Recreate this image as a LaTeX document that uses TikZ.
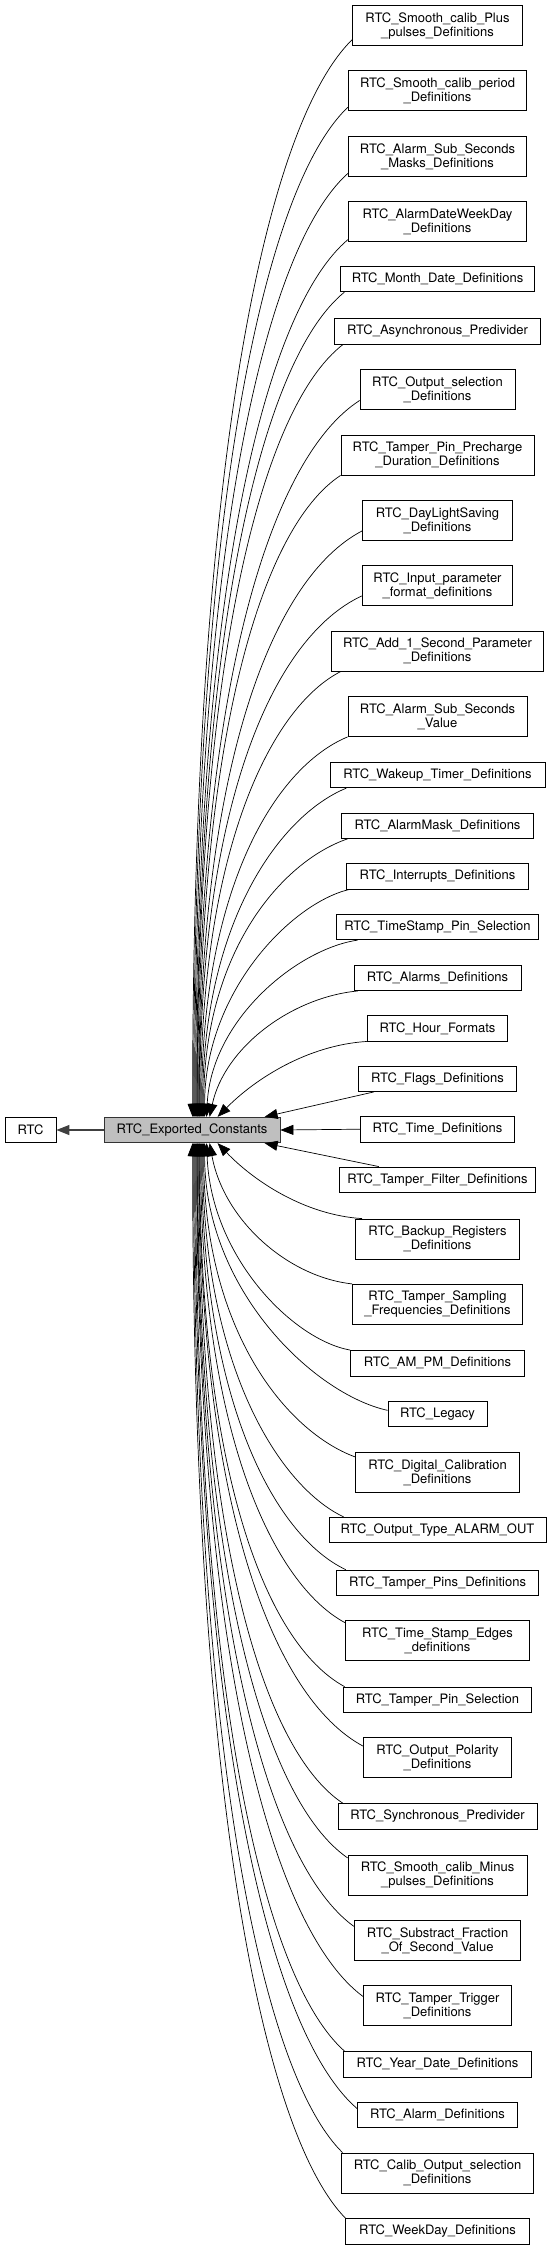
\documentclass[tikz,border=0pt]{standalone}
\usepackage{fontspec}
\setmainfont{TeX Gyre Heros}
\usetikzlibrary{arrows.meta,calc}
\tikzset{
  box/.style={draw=black, fill=white, line width=0.8pt, inner sep=0pt, align=center,
    font=\fontsize{13}{14}\selectfont},
  edge/.style={draw=black, line width=0.7pt, -{Triangle[length=13pt,width=10pt]}},
  pedge/.style={draw=black!75, line width=1.2pt, -{Triangle[length=13pt,width=10pt]}}
}
\newcommand\bx[5]{\node[box, minimum width=#3pt, minimum height=#4pt] (#1) at (437.5,#2) {#5};}
% upper edge: name, dx, dy(up), end x, a, b, c, k
\newcommand\uedge[8]{%
  \draw[edge] let \p1=($(#1.south west)+(#2,-#3)$), \p2=($(c.north west)+(#4-104,0)$) in
   (\p1) .. controls ({\x1+#5*(\x2-\x1)},{\y1+#6*(\y2-\y1)}) and ({\x2+#8*(\x1-\x2)},{\y1+#7*(\y2-\y1)}) .. (\p2);}
% lower edge: name, dx, dy(down), end x, a, b, c, k
\newcommand\ledge[8]{%
  \draw[edge] let \p1=($(#1.north west)+(#2,#3)$), \p2=($(c.south west)+(#4-104,0)$) in
   (\p1) .. controls ({\x1+#5*(\x2-\x1)},{\y1+#6*(\y2-\y1)}) and ({\x2+#8*(\x1-\x2)},{\y1+#7*(\y2-\y1)}) .. (\p2);}
\begin{document}
\begin{tikzpicture}[x=1pt,y=-1pt]
\useasboundingbox (0,0) rectangle (553,2251);
\node[box, minimum width=51pt, minimum height=25.5pt] (rtc) at (30.5,1130) {RTC};
\node[box, draw=black!80, fill=black!25, minimum width=176pt, minimum height=25.5pt] (c) at (192,1130) {RTC\_Exported\_Constants};
\bx{n1}{25.7}{170}{40}{RTC\_Smooth\_calib\_Plus\\\_pulses\_Definitions}
\bx{n2}{90.8}{178.4}{40}{RTC\_Smooth\_calib\_period\\\_Definitions}
\bx{n3}{156.3}{178.4}{40}{RTC\_Alarm\_Sub\_Seconds\\\_Masks\_Definitions}
\bx{n4}{221.8}{177.4}{40}{RTC\_AlarmDateWeekDay\\\_Definitions}
\bx{n5}{279}{194}{25.5}{RTC\_Month\_Date\_Definitions}
\bx{n6}{331.3}{206.7}{25.5}{RTC\_Asynchronous\_Predivider}
\bx{n7}{389.8}{155}{40}{RTC\_Output\_selection\\\_Definitions}
\bx{n8}{455}{193}{40}{RTC\_Tamper\_Pin\_Precharge\\\_Duration\_Definitions}
\bx{n9}{520.5}{150}{40}{RTC\_DayLightSaving\\\_Definitions}
\bx{n10}{585.5}{150.6}{40}{RTC\_Input\_parameter\\\_format\_definitions}
\bx{n11}{651}{212.3}{40}{RTC\_Add\_1\_Second\_Parameter\\\_Definitions}
\bx{n12}{716.5}{179}{40}{RTC\_Alarm\_Sub\_Seconds\\\_Value}
\bx{n13}{775}{215}{25.5}{RTC\_Wakeup\_Timer\_Definitions}
\bx{n14}{825.7}{192.3}{25.5}{RTC\_AlarmMask\_Definitions}
\bx{n15}{876.3}{182.3}{25.5}{RTC\_Interrupts\_Definitions}
\bx{n16}{927}{201.3}{25.5}{RTC\_TimeStamp\_Pin\_Selection}
\bx{n17}{977.8}{167}{25.5}{RTC\_Alarms\_Definitions}
\bx{n18}{1028.3}{140.7}{25.5}{RTC\_Hour\_Formats}
\bx{n19}{1078.7}{158}{25.5}{RTC\_Flags\_Definitions}
\bx{n20}{1129.2}{154.7}{25.5}{RTC\_Time\_Definitions}
\bx{n21}{1179.7}{196.7}{25.5}{RTC\_Tamper\_Filter\_Definitions}
\bx{n22}{1239}{164.7}{40}{RTC\_Backup\_Registers\\\_Definitions}
\bx{n23}{1304.3}{170}{40}{RTC\_Tamper\_Sampling\\\_Frequencies\_Definitions}
\bx{n24}{1363.2}{174}{25.5}{RTC\_AM\_PM\_Definitions}
\bx{n25}{1413.8}{99}{25.5}{RTC\_Legacy}
\bx{n26}{1472.3}{164}{40}{RTC\_Digital\_Calibration\\\_Definitions}
\bx{n27}{1530}{217}{25.5}{RTC\_Output\_Type\_ALARM\_OUT}
\bx{n28}{1582.8}{202.6}{25.5}{RTC\_Tamper\_Pins\_Definitions}
\bx{n29}{1640.7}{183.3}{40}{RTC\_Time\_Stamp\_Edges\\\_definitions}
\bx{n30}{1699.8}{188.4}{25.5}{RTC\_Tamper\_Pin\_Selection}
\bx{n31}{1757.7}{147.4}{40}{RTC\_Output\_Polarity\\\_Definitions}
\bx{n32}{1816.2}{199}{25.5}{RTC\_Synchronous\_Predivider}
\bx{n33}{1875}{179}{40}{RTC\_Smooth\_calib\_Minus\\\_pulses\_Definitions}
\bx{n34}{1940.7}{166.7}{40}{RTC\_Substract\_Fraction\\\_Of\_Second\_Value}
\bx{n35}{2005.8}{148.4}{40}{RTC\_Tamper\_Trigger\\\_Definitions}
\bx{n36}{2064.2}{188.7}{25.5}{RTC\_Year\_Date\_Definitions}
\bx{n37}{2115}{160}{25.5}{RTC\_Alarm\_Definitions}
\bx{n38}{2173}{192.3}{40}{RTC\_Calib\_Output\_selection\\\_Definitions}
\bx{n39}{2231.3}{183.3}{25.5}{RTC\_WeekDay\_Definitions}
% edges
\draw[pedge] (c.west) -- (rtc.east);
\draw[edge] (n20.west) -- (c.east);
\uedge{n1}{0}{6.4}{193}{.55}{.08}{.4}{0}
\uedge{n2}{0}{4}{194}{.55}{.08}{.4}{0}
\uedge{n3}{0}{3.3}{195}{.55}{.08}{.4}{0}
\uedge{n4}{0}{3}{196}{.55}{.08}{.4}{0}
\uedge{n5}{4.3}{0}{197}{.55}{.08}{.4}{0}
\uedge{n6}{9.3}{0}{197.5}{.55}{.08}{.4}{0}
\uedge{n7}{0}{9.7}{198}{.55}{.08}{.4}{0}
\uedge{n8}{0}{0}{199}{.55}{.08}{.4}{0}
\uedge{n9}{0}{10}{199.5}{.55}{.08}{.4}{0}
\uedge{n10}{0}{10}{200}{.55}{.08}{.4}{0}
\uedge{n11}{10}{0}{201}{.5}{.08}{.4}{0}
\uedge{n12}{0}{0}{202}{.5}{.08}{.4}{0}
\uedge{n13}{16.7}{0}{203}{.45}{.08}{.4}{0}
\uedge{n14}{6.6}{0}{204}{.45}{.08}{.4}{0}
\uedge{n15}{3.3}{0}{205}{.4}{.06}{.45}{0}
\uedge{n16}{21}{0}{207}{.4}{.05}{.45}{.03}
\uedge{n17}{4.3}{0}{210}{.45}{.05}{.45}{.1}
\uedge{n18}{0}{0}{218}{.4}{.05}{.5}{.25}
\uedge{n19}{16}{0}{265}{.33}{.33}{.67}{.33}
\ledge{n21}{40}{0}{265}{.33}{.33}{.67}{.33}
\ledge{n22}{7.3}{0}{218}{.4}{.05}{.5}{.25}
\ledge{n23}{0}{0}{210}{.45}{.05}{.45}{.1}
\ledge{n24}{0}{0}{207}{.4}{.05}{.45}{.03}
\ledge{n25}{0}{9.7}{205}{.4}{.06}{.45}{0}
\ledge{n26}{0}{5}{204}{.45}{.08}{.4}{0}
\ledge{n27}{15}{0}{203}{.45}{.08}{.4}{0}
\ledge{n28}{10}{0}{202}{.5}{.08}{.4}{0}
\ledge{n29}{0}{2.6}{201}{.5}{.08}{.4}{0}
\ledge{n30}{1.7}{0}{200}{.55}{.08}{.4}{0}
\ledge{n31}{0}{9}{199.5}{.55}{.08}{.4}{0}
\ledge{n32}{5}{0}{199}{.55}{.08}{.4}{0}
\ledge{n33}{0}{3.3}{198}{.55}{.08}{.4}{0}
\ledge{n34}{0}{6}{197.5}{.55}{.08}{.4}{0}
\ledge{n35}{0}{11}{197}{.55}{.08}{.4}{0}
\ledge{n36}{1.7}{0}{196}{.55}{.08}{.4}{0}
\ledge{n37}{0}{6.7}{195}{.55}{.08}{.4}{0}
\ledge{n38}{1.6}{0}{194}{.55}{.08}{.4}{0}
\ledge{n39}{0}{0}{193}{.55}{.08}{.4}{0}
\end{tikzpicture}
\end{document}
